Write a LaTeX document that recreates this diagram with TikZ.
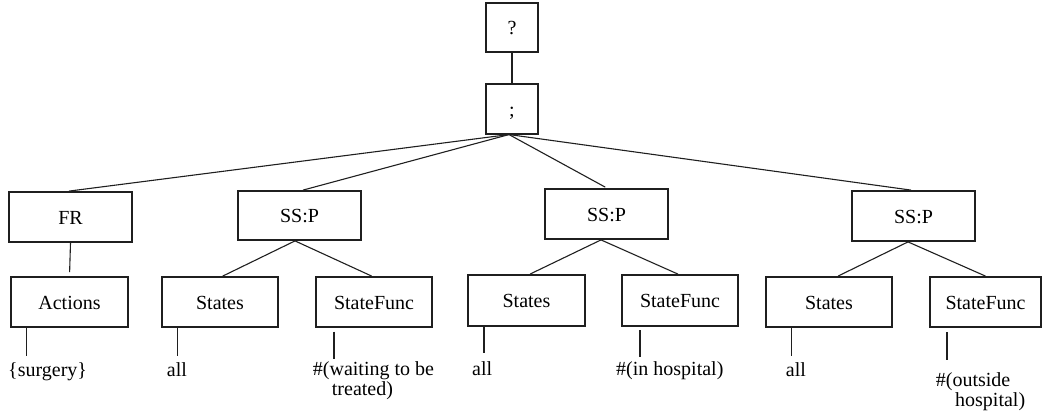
\documentclass[tikz,border=0pt]{standalone}
\usepackage{fontspec}
\setmainfont{Liberation Serif}
\begin{document}
\begin{tikzpicture}[x=1pt,y=-1pt,
  ink/.style={draw=black!88},
  topbox/.style={ink, line width=1.1pt, rectangle, inner sep=0pt,
    font=\fontsize{20}{20}\selectfont, text height=14pt, text depth=0pt},
  termbox/.style={ink, line width=1.8pt, rectangle, inner sep=0pt,
    font=\fontsize{20}{20}\selectfont, text height=14pt, text depth=0pt},
  wire/.style={black!88, line width=1.1pt},
  leaf/.style={anchor=base west, inner sep=0pt, font=\fontsize{20}{20}\selectfont}]
\useasboundingbox (0,0) rectangle (1043,410);

% root and sequence operator
\node[topbox, minimum width=52pt, minimum height=49pt] (q) at (512,27.5) {?};
\node[topbox, minimum width=52pt, minimum height=50pt] (semi) at (512,109) {;};

% second level
\node[termbox, minimum width=123pt, minimum height=50pt] (fr) at (70.5,217) {FR};
\node[termbox, minimum width=123pt, minimum height=49pt] (ssp1) at (299.5,215.5) {SS:P};
\node[termbox, minimum width=123pt, minimum height=50pt] (ssp2) at (606.5,214) {SS:P};
\node[termbox, minimum width=123pt, minimum height=50pt] (ssp3) at (913.5,216) {SS:P};

% third level
\node[termbox, minimum width=117pt, minimum height=50pt] (act) at (69.5,302) {Actions};
\node[termbox, minimum width=116pt, minimum height=50pt] (st1) at (220,302) {States};
\node[termbox, minimum width=116pt, minimum height=50pt] (sf1) at (374,302) {StateFunc};
\node[termbox, minimum width=117pt, minimum height=51pt] (st2) at (526.5,300.5) {States};
\node[termbox, minimum width=116pt, minimum height=51pt] (sf2) at (680,300.5) {StateFunc};
\node[termbox, minimum width=126pt, minimum height=50pt] (st3) at (829,302) {States};
\node[termbox, minimum width=111pt, minimum height=50pt] (sf3) at (985.5,302) {StateFunc};

% leaf values
\node[leaf] (surg) at (8,376) {\{surgery\}};
\node[leaf] (all1) at (166.7,376) {all};
\node[leaf] (wait1) at (312.7,375) {\#(waiting to be};
\node[leaf] (wait2) at (331.7,395) {treated)};
\node[leaf] (all2) at (472,375) {all};
\node[leaf] (inhosp) at (616,375) {\#(in hospital)};
\node[leaf] (all3) at (785.7,376.7) {all};
\node[leaf] (out1) at (935.7,386.7) {\#(outside};
\node[leaf] (out2) at (955,406.7) {hospital)};

% tree edges
\draw[wire] (q.south) -- (semi.north);
\coordinate (fan) at ([xshift=-3pt]semi.south);
\draw[wire] (fan) -- ([xshift=-1.5pt]fr.north);
\draw[wire] (fan) -- ([xshift=3.5pt]ssp1.north);
\draw[wire, shorten >=2pt] (fan) -- ([xshift=0.5pt]ssp2.north);
\draw[wire] (fan) -- ([xshift=-2.5pt]ssp3.north);
\draw[wire, shorten >=4pt] (fr.south) -- (act.north);

\draw[wire] ([xshift=-4.5pt]ssp1.south) -- ([xshift=2.7pt]st1.north);
\draw[wire] ([xshift=-4.5pt]ssp1.south) -- ([xshift=-2.3pt]sf1.north);
\draw[wire] ([xshift=-5.5pt]ssp2.south) -- ([xshift=3.5pt]st2.north);
\draw[wire] ([xshift=-5.5pt]ssp2.south) -- ([xshift=-2pt]sf2.north);
\draw[wire] ([xshift=-5.5pt]ssp3.south) -- ([xshift=9pt]st3.north);
\draw[wire] ([xshift=-5.5pt]ssp3.south) -- (sf3.north);

% stubs down to the leaf values
\coordinate (e1) at (26.7,356);
\coordinate (e2) at (177.7,356);
\coordinate (e3a) at (334,331.7);
\coordinate (e3) at (334,359);
\coordinate (e4) at (484,353);
\coordinate (e5a) at (640,330);
\coordinate (e5) at (640,357);
\coordinate (e6) at (791.7,356);
\coordinate (e7a) at (947,332);
\coordinate (e7) at (947,360);
\draw[wire] (act.south -| e1) -- (e1);
\draw[wire] (st1.south -| e2) -- (e2);
\draw[wire] (e3a) -- (e3);
\draw[wire] (st2.south -| e4) -- (e4);
\draw[wire] (e5a) -- (e5);
\draw[wire] (st3.south -| e6) -- (e6);
\draw[wire] (e7a) -- (e7);
\end{tikzpicture}
\end{document}
